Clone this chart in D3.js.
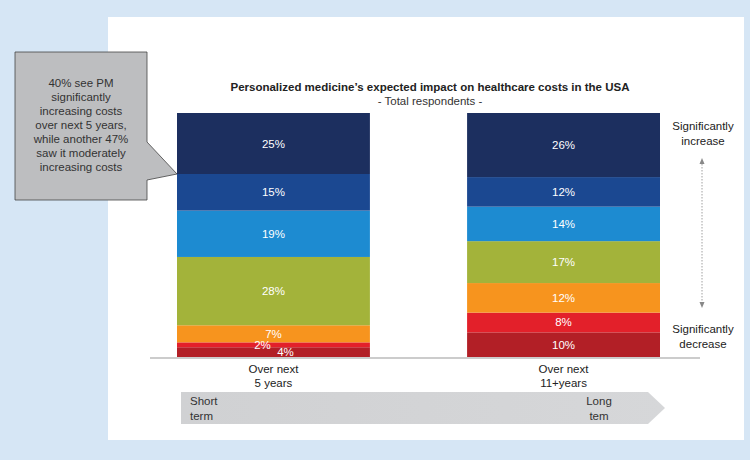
<!DOCTYPE html>
<html>
<head>
<meta charset="utf-8">
<script src="https://cdn.jsdelivr.net/npm/d3@7"></script>
<style>
	body { margin: 0; padding: 0; background: #d6e6f5; }
	svg { display: block; font-family: "Liberation Sans", Arial, sans-serif; }
</style>
</head>
<body>
<div id="canvas"></div>
<script>
// chart data
var categories = ["Over next 5 years", "Over next 11+years"];
var categoryLines = [["Over next", "5 years"], ["Over next", "11+years"]];
var levels = ["sigDecrease", "modDecrease", "slightDecrease", "noChange", "slightIncrease", "modIncrease", "sigIncrease"];
var levelColors = ["#b21f26", "#e3202a", "#f7941e", "#a3b33a", "#1d8bd1", "#1b4891", "#1c2f5f"];
// values listed bottom (significant decrease) to top (significant increase)
var shortTermValues = [4, 2, 7, 28, 19, 15, 25];
var longTermValues = [10, 8, 12, 17, 14, 12, 26];
var calloutLines = ["40% see PM", "significantly", "increasing costs", "over next 5 years,", "while another 47%", "saw it moderately", "increasing costs"];

var w = 750, h = 460;

var svg = d3.select("#canvas")
	.append("svg")
	.attr("width", w)
	.attr("height", h);

svg.append("rect")
	.attr("x", 0).attr("y", 0)
	.attr("width", w).attr("height", h)
	.attr("fill", "#d6e6f5");

svg.append("rect")
	.attr("x", 108).attr("y", 17)
	.attr("width", 636).attr("height", 423)
	.attr("fill", "#ffffff");

// title
svg.append("text")
	.attr("x", 430)
	.attr("y", 91)
	.attr("text-anchor", "middle")
	.attr("font-size", 11.5)
	.attr("font-weight", "bold")
	.attr("fill", "#222")
	.text("Personalized medicine\u2019s expected impact on healthcare costs in the USA");

svg.append("text")
	.attr("x", 430)
	.attr("y", 105)
	.attr("text-anchor", "middle")
	.attr("font-size", 11.5)
	.attr("fill", "#333")
	.text("- Total respondents -");

// stack
var rows = categories.map(function(c, i){
	var row = {category: c};
	var vals = i === 0 ? shortTermValues : longTermValues;
	levels.forEach(function(l, j){ row[l] = vals[j]; });
	return row;
});

var stack = d3.stack()
	.keys(levels)
	.offset(d3.stackOffsetExpand);
var series = stack(rows);

var xScale = d3.scaleBand()
	.domain(categories)
	.range([177, 660])
	.paddingInner(0.335)
	.paddingOuter(0);

var yScale = d3.scaleLinear()
	.domain([0, 1])
	.range([357, 113]);

var colorScale = d3.scaleOrdinal()
	.domain(levels)
	.range(levelColors);

var layers = svg.selectAll(".layer")
	.data(series)
	.enter()
	.append("g")
	.attr("class", "layer")
	.attr("fill", function(d){ return colorScale(d.key); });

layers.selectAll("rect")
	.data(function(d){ return d; })
	.enter()
	.append("rect")
	.attr("x", function(d){ return xScale(d.data.category); })
	.attr("y", function(d){ return yScale(d[1]); })
	.attr("width", xScale.bandwidth())
	.attr("height", function(d){ return yScale(d[0]) - yScale(d[1]); });

// value labels
series.forEach(function(s, si){
	s.forEach(function(d, ci){
		var v = d.data[s.key];
		var cx = xScale(d.data.category) + xScale.bandwidth() / 2;
		var cy = (yScale(d[0]) + yScale(d[1])) / 2 + 4;
		var segH = yScale(d[0]) - yScale(d[1]);
		if (segH < 12) {
			// thin segments: put labels side by side
			if (si === 0) { cx += 12; cy = yScale(d[1]) + 9; }
			else { cx -= 11; cy = yScale(d[0]) + 2; }
		}
		svg.append("text")
			.attr("x", cx)
			.attr("y", cy)
			.attr("text-anchor", "middle")
			.attr("font-size", 11.5)
			.attr("fill", "#ffffff")
			.text(v + "%");
	});
});

// baseline
svg.append("line")
	.attr("x1", 150).attr("x2", 700)
	.attr("y1", 358).attr("y2", 358)
	.attr("stroke", "#999")
	.attr("stroke-width", 1);

// category labels
categories.forEach(function(c, i){
	var t = svg.append("text")
		.attr("x", xScale(c) + xScale.bandwidth() / 2)
		.attr("y", 373)
		.attr("text-anchor", "middle")
		.attr("font-size", 11.5)
		.attr("fill", "#222");
	categoryLines[i].forEach(function(line, k){
		t.append("tspan")
			.attr("x", xScale(c) + xScale.bandwidth() / 2)
			.attr("dy", k === 0 ? 0 : 14)
			.text(line);
	});
});

// right side scale annotation
function twoLines(x, y, a, b){
	var t = svg.append("text")
		.attr("x", x).attr("y", y)
		.attr("text-anchor", "middle")
		.attr("font-size", 11.5)
		.attr("fill", "#222");
	t.append("tspan").attr("x", x).attr("dy", 0).text(a);
	t.append("tspan").attr("x", x).attr("dy", 15).text(b);
}
twoLines(703, 130, "Significantly", "increase");
twoLines(703, 333, "Significantly", "decrease");

svg.append("line")
	.attr("x1", 702).attr("x2", 702)
	.attr("y1", 161).attr("y2", 305)
	.attr("stroke", "#888")
	.attr("stroke-width", 0.8)
	.attr("stroke-dasharray", "1.5,1.5");
svg.append("path")
	.attr("d", "M699.5,164 L702,158 L704.5,164 Z")
	.attr("fill", "#888");
svg.append("path")
	.attr("d", "M699.5,302 L702,308 L704.5,302 Z")
	.attr("fill", "#888");

// time arrow
var grad = svg.append("defs").append("linearGradient")
	.attr("id", "arrowGrad")
	.attr("x1", "0").attr("x2", "1").attr("y1", "0").attr("y2", "0");
grad.append("stop").attr("offset", "0%").attr("stop-color", "#d0d1d3");
grad.append("stop").attr("offset", "100%").attr("stop-color", "#d6d7d9");

svg.append("path")
	.attr("d", "M181,392 L648,392 L665,408 L648,424 L181,424 Z")
	.attr("fill", "url(#arrowGrad)");

var st = svg.append("text")
	.attr("x", 190).attr("y", 405)
	.attr("font-size", 11.5)
	.attr("fill", "#333");
st.append("tspan").attr("x", 190).attr("dy", 0).text("Short");
st.append("tspan").attr("x", 190).attr("dy", 15).text("term");

var lt = svg.append("text")
	.attr("x", 599).attr("y", 405)
	.attr("text-anchor", "middle")
	.attr("font-size", 11.5)
	.attr("fill", "#333");
lt.append("tspan").attr("x", 599).attr("dy", 0).text("Long");
lt.append("tspan").attr("x", 599).attr("dy", 15).text("tem");

// callout box
svg.append("path")
	.attr("d", "M15,52 L147,52 L147,142 L177,174 L147,180 L147,200 L15,200 Z")
	.attr("fill", "#bdbec0")
	.attr("stroke", "#444")
	.attr("stroke-width", 0.8);

var ct = svg.append("text")
	.attr("x", 81).attr("y", 87)
	.attr("text-anchor", "middle")
	.attr("font-size", 11.5)
	.attr("fill", "#333");
calloutLines.forEach(function(line, k){
	ct.append("tspan")
		.attr("x", 81)
		.attr("dy", k === 0 ? 0 : 14)
		.text(line);
});
</script>
</body>
</html>
